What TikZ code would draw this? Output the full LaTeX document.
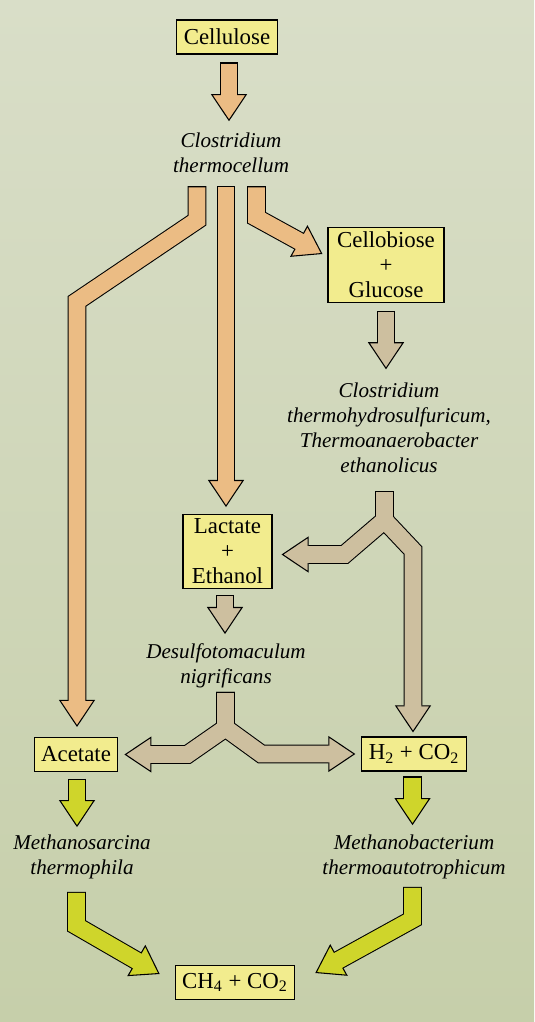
\documentclass[tikz,border=0pt]{standalone}
\usepackage{fontspec}
\setmainfont{Liberation Serif}
\usetikzlibrary{arrows.meta,calc}

\definecolor{bgtop}{HTML}{D9DEC8}
\definecolor{bgbottom}{HTML}{C6CFAA}
\definecolor{boxyellow}{HTML}{F2EC8E}
\definecolor{orangeflow}{HTML}{EBBC84}
\definecolor{tanflow}{HTML}{CDBF9F}
\definecolor{greenflow}{HTML}{CFD52B}

\begin{document}
\begin{tikzpicture}[x=0.2mm,y=-0.2mm]
\tikzstyle{box}=[draw, line width=0.6pt, fill=boxyellow, inner xsep=1.4mm, inner ysep=2.5pt, minimum height=6.8mm, align=center, font=\fontsize{13}{14.2}\selectfont]
\tikzstyle{bug}=[inner sep=0pt, align=center, font=\fontsize{12}{14.2}\selectfont\itshape]
\tikzset{
  fatout/.style={line width=10.8pt, black, shorten <=-0.6pt, -{Triangle[length=15.4pt, width=20.5pt, fill=#1, color=black, line width=0.6pt]}},
  fatin/.style={line width=9.6pt, #1, shorten >=14.2pt}
}
\fill[top color=bgtop, bottom color=bgbottom] (0,0) rectangle (534,1022);
\useasboundingbox (0,0) rectangle (534,1022);

\node[box] (cellulose) at (227,37) {Cellulose};
\node[bug] (ctherm) at (231,153) {Clostridium\\thermocellum};
\node[box, minimum width=23.2mm] (cellobiose) at (386,265) {Cellobiose\\+\\Glucose};
\node[bug] (cthermo) at (389,428) {Clostridium\\thermohydrosulfuricum,\\Thermoanaerobacter\\ethanolicus};
\node[box, minimum width=17.8mm] (lactate) at (227.5,551.5) {Lactate\\+\\Ethanol};
\node[bug] (desulfo) at (226,666) {Desulfotomaculum\\nigrificans};
\node[box] (acetate) at (76,754.5) {Acetate};
\node[box] (h2co2) at (414,754) {H\textsubscript{2} + CO\textsubscript{2}};
\node[bug] (msarc) at (82,857) {Methanosarcina\\thermophila};
\node[bug] (mbact) at (414,857) {Methanobacterium\\thermoautotrophicum};
\node[box] (ch4co2) at (235,982.5) {CH\textsubscript{4} + CO\textsubscript{2}};

% outlines first, then fills
\foreach \p in {out,in} {
  \draw[fat\p=orangeflow] ($(cellulose.south)+(2,9)$) -- ($(ctherm.north)+(-2,-11.5)$);
  \draw[fat\p=orangeflow] ($(ctherm.south)+(-34,14)$) -- ++(0,33) -- ++(-120,81) -- ($(acetate.north)+(1,-10)$);
  \draw[fat\p=orangeflow] ($(ctherm.south)+(-5,14)$) -- ($(lactate.north)+(-1.5,-7)$);
  \draw[fat\p=orangeflow] ($(ctherm.south)+(25.5,14)$) -- ++(0,30.5) -- ($(cellobiose.west)+(-5,-11)$);

  \draw[fat\p=tanflow] ($(cellobiose.south)+(0,9)$) -- ($(cthermo.north)+(-3,-13.5)$);
  \draw[fat\p=tanflow] ($(cthermo.south)+(-4.5,19)$) -- ++(0,28) -- ($(lactate.east)+(72,3)$) -- ($(lactate.east)+(9,3)$);
  \draw[fat\p=tanflow] ($(cthermo.south)+(-4.5,19)$) -- ++(0,28) -- ($(h2co2.north)+(-1,-186)$) -- ($(h2co2.north)+(-1,-4)$);
  \draw[fat\p=tanflow] ($(lactate.south)+(-2.5,7)$) -- ($(desulfo.north)+(-1,-9.5)$);
  \draw[fat\p=tanflow] ($(desulfo.south)+(-0.5,4.5)$) -- ++(0,35) -- ($(acetate.east)+(69,0)$) -- ($(acetate.east)+(6,0)$);
  \draw[fat\p=tanflow] ($(desulfo.south)+(-0.5,4.5)$) -- ++(0,35) -- ($(h2co2.west)+(-100,0)$) -- ($(h2co2.west)+(-6,0)$);

  \draw[fat\p=greenflow] ($(acetate.south)+(1,8)$) -- ($(msarc.north)+(-5,-7.5)$);
  \draw[fat\p=greenflow] ($(h2co2.south)+(-1.5,6)$) -- ($(mbact.north)+(-1.5,-9.5)$);
  \draw[fat\p=greenflow] ($(msarc.south)+(-5.5,13.5)$) -- ++(0,33) -- ($(ch4co2.west)+(-15,-8.5)$);
  \draw[fat\p=greenflow] ($(mbact.south)+(-1.5,8.5)$) -- ++(0,31.5) -- ($(ch4co2.east)+(20,-9.5)$);
}
\end{tikzpicture}
\end{document}
